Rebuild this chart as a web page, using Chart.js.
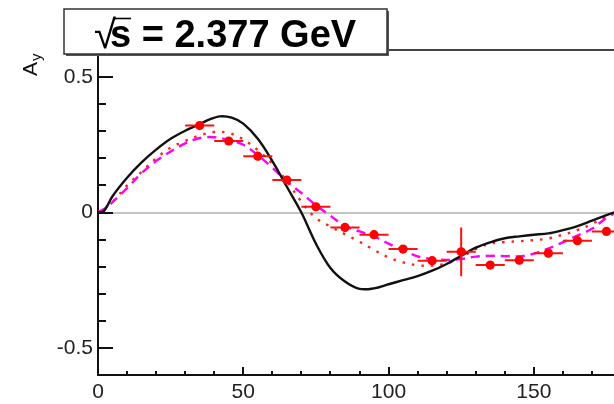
<!DOCTYPE html>
<html>
<head>
<meta charset="utf-8">
<script src="https://cdn.jsdelivr.net/npm/chart.js@4/dist/chart.umd.min.js"></script>
<style>
html,body{margin:0;padding:0;background:#fff;overflow:hidden;}
canvas{display:block;}
</style>
</head>
<body>
<canvas id="c" width="640" height="404"></canvas>
<script>
// ---- data ----
const titleText = "s = 2.377 GeV";
const yAxisLabel = "A";
const yAxisSub = "y";
const xTickValues = [0, 50, 100, 150];
const yTickValues = [-0.5, 0, 0.5];
const xMinorTicks = [10,20,30,40,50,60,70,80,90,100,110,120,130,140,150,160,170];
const yMinorTicks = [-0.5,-0.4,-0.3,-0.2,-0.1,0,0.1,0.2,0.3,0.4,0.5];

// measured points
const angles  = [35, 45, 55, 65, 75, 85, 95, 105, 115, 125, 135, 145, 155, 165, 175];
const ayValues = [0.321, 0.264, 0.208, 0.12, 0.021, -0.055, -0.082, -0.135, -0.178, -0.145, -0.194, -0.176, -0.15, -0.104, -0.07];
const ayErrors = [0.015, 0.015, 0.015, 0.015, 0.015, 0.015, 0.015, 0.015, 0.015, 0.09, 0.015, 0.015, 0.015, 0.015, 0.015];
const binHalfWidth = [5, 5, 5, 5, 5, 5, 5, 5, 5, 5, 5, 5, 5, 5, 5];

// black solid curve
const solidX = [0, 2, 5, 10, 15, 20, 25, 30, 35, 38, 42, 46, 50, 55, 60, 65, 70, 75, 80, 85, 90, 95, 100, 105, 110, 115, 120, 125, 130, 135, 140, 145, 150, 155, 160, 165, 170, 175, 180];
const solidY = [0, 0.005, 0.06, 0.128, 0.185, 0.232, 0.272, 0.302, 0.326, 0.342, 0.355, 0.35, 0.328, 0.272, 0.19, 0.095, 0.0, -0.115, -0.205, -0.255, -0.282, -0.28, -0.265, -0.25, -0.235, -0.215, -0.19, -0.16, -0.13, -0.11, -0.095, -0.088, -0.082, -0.077, -0.065, -0.05, -0.03, -0.01, 0.01];

// magenta dashed curve
const dashX = [0, 3.5, 10, 15, 20, 25, 30, 35, 40, 45, 50, 55, 60, 65, 70, 75, 80, 85, 90, 95, 100, 105, 110, 115, 120, 125, 130, 135, 140, 145, 150, 155, 160, 165, 170, 175, 180];
const dashY = [0, 0.024, 0.09, 0.145, 0.19, 0.225, 0.255, 0.275, 0.278, 0.268, 0.25, 0.212, 0.165, 0.115, 0.072, 0.027, -0.012, -0.05, -0.07, -0.088, -0.115, -0.14, -0.162, -0.172, -0.175, -0.172, -0.163, -0.16, -0.161, -0.162, -0.152, -0.133, -0.11, -0.085, -0.06, -0.02, 0.01];

// red dotted curve
const dotX = [0, 5, 10, 15, 20, 25, 30, 35, 40, 45, 50, 55, 60, 65, 70, 75, 80, 85, 90, 95, 100, 105, 110, 115, 120, 125, 130, 135, 140, 145, 150, 155, 160, 165, 170, 175, 180];
const dotY = [0, 0.04, 0.1, 0.15, 0.2, 0.24, 0.264, 0.285, 0.297, 0.294, 0.27, 0.23, 0.18, 0.115, 0.04, -0.02, -0.052, -0.08, -0.108, -0.138, -0.166, -0.184, -0.195, -0.196, -0.188, -0.165, -0.135, -0.115, -0.109, -0.106, -0.102, -0.096, -0.082, -0.065, -0.042, -0.015, 0.008];

const pts = (xs, ys) => xs.map((x, i) => ({x: x, y: ys[i]}));
const FONT = '"Liberation Sans", Arial, Helvetica, sans-serif';

const decor = {
  id: 'decor',
  beforeDatasetDraw(chart, args) {
    if (args.index !== 0) return;
    const {ctx, scales: {x, y}} = chart;
    ctx.save();
    ctx.strokeStyle = '#ff1010';
    ctx.lineWidth = 2;
    angles.forEach((a, i) => {
      const px = x.getPixelForValue(a);
      const py = y.getPixelForValue(ayValues[i]);
      ctx.beginPath();
      ctx.moveTo(x.getPixelForValue(a - binHalfWidth[i]), py);
      ctx.lineTo(x.getPixelForValue(a + binHalfWidth[i]), py);
      ctx.moveTo(px, y.getPixelForValue(ayValues[i] - ayErrors[i]));
      ctx.lineTo(px, y.getPixelForValue(ayValues[i] + ayErrors[i]));
      ctx.stroke();
    });
    ctx.restore();
  },
  afterDraw(chart) {
    const {ctx, chartArea: ca, scales: {x, y}} = chart;
    ctx.save();
    // inside ticks
    ctx.strokeStyle = '#111';
    ctx.lineWidth = 2;
    yMinorTicks.forEach(v => {
      const py = Math.round(y.getPixelForValue(v));
      const len = yTickValues.includes(v) ? 15 : 8;
      ctx.beginPath();
      ctx.moveTo(ca.left, py);
      ctx.lineTo(ca.left + len, py);
      ctx.stroke();
    });
    xMinorTicks.forEach(v => {
      const px = Math.round(x.getPixelForValue(v));
      const len = xTickValues.includes(v) ? 8 : 4;
      ctx.beginPath();
      ctx.moveTo(px, ca.bottom);
      ctx.lineTo(px, ca.bottom - len);
      ctx.stroke();
    });
    // top frame
    ctx.strokeStyle = '#444';
    ctx.lineWidth = 2;
    ctx.beginPath();
    ctx.moveTo(ca.left, ca.top);
    ctx.lineTo(ca.right, ca.top);
    ctx.stroke();

    // title box
    const bx = 64, by = 9, bw = 323, bh = 45;
    ctx.fillStyle = '#555';
    ctx.fillRect(bx + 2, by + 2, bw, bh);
    ctx.fillStyle = '#fff';
    ctx.fillRect(bx, by, bw, bh);
    ctx.strokeStyle = '#333';
    ctx.lineWidth = 1.5;
    ctx.strokeRect(bx, by, bw, bh);
    ctx.fillStyle = '#000';
    ctx.textBaseline = 'alphabetic';
    ctx.textAlign = 'left';
    ctx.font = '40px ' + FONT;
    ctx.fillText('\u221A', 94, 48);
    const rw = ctx.measureText('\u221A').width;
    ctx.strokeStyle = '#000';
    ctx.lineWidth = 1.6;
    ctx.beginPath();
    ctx.moveTo(94 + rw - 1, 18.5);
    ctx.lineTo(131, 18.5);
    ctx.stroke();
    ctx.font = 'bold 38px ' + FONT;
    ctx.fillText(titleText, 110, 47);
    // y axis label (rotated)
    ctx.translate(37, 76);
    ctx.rotate(-Math.PI / 2);
    ctx.fillStyle = '#111';
    ctx.font = '21px ' + FONT;
    ctx.fillText(yAxisLabel, 0, 0);
    const w = ctx.measureText(yAxisLabel).width;
    ctx.font = '15px ' + FONT;
    ctx.fillText(yAxisSub, w + 1, 4);
    ctx.restore();
  }
};

new Chart(document.getElementById('c'), {
  type: 'scatter',
  data: {
    datasets: [
      {
        label: 'data',
        data: pts(angles, ayValues),
        backgroundColor: '#ff0000',
        borderColor: '#ff0000',
        pointRadius: 4.6,
        pointBorderWidth: 0,
        showLine: false
      },
      {
        label: 'solid',
        data: pts(solidX, solidY),
        showLine: true,
        borderColor: '#111',
        borderWidth: 2.4,
        pointRadius: 0,
        tension: 0.35
      },
      {
        label: 'dashed',
        data: pts(dashX, dashY),
        showLine: true,
        borderColor: '#ff00ff',
        borderWidth: 2.4,
        borderDash: [9, 6],
        pointRadius: 0,
        tension: 0.35
      },
      {
        label: 'dotted',
        data: pts(dotX, dotY),
        showLine: true,
        borderColor: '#ff2020',
        borderWidth: 2.4,
        borderDash: [2.5, 7],
        pointRadius: 0,
        tension: 0.35
      }
    ]
  },
  options: {
    responsive: false,
    devicePixelRatio: 1,
    animation: false,
    layout: {padding: {top: 50, right: 19, left: 0, bottom: 0}},
    plugins: {legend: {display: false}, tooltip: {enabled: false}, title: {display: false}},
    scales: {
      x: {
        type: 'linear',
        min: 0, max: 180,
        afterFit(s) { s.height = 29; },
        afterBuildTicks(s) { s.ticks = xTickValues.map(v => ({value: v})); },
        grid: {display: false, drawTicks: false},
        border: {display: true, color: '#111', width: 2},
        ticks: {autoSkip: false, maxRotation: 0, padding: 5, color: '#222',
                font: {family: FONT, size: 21},
                callback: v => String(v)}
      },
      y: {
        type: 'linear',
        min: -0.6, max: 0.6,
        afterFit(s) { s.width = 98; },
        afterBuildTicks(s) { s.ticks = yTickValues.map(v => ({value: v})); },
        grid: {display: true, drawTicks: false, lineWidth: 2,
               color: c => (c.tick && c.tick.value === 0) ? '#c4c4c4' : 'rgba(0,0,0,0)'},
        border: {display: true, color: '#111', width: 2},
        ticks: {autoSkip: false, padding: 5, color: '#222',
                font: {family: FONT, size: 21},
                callback: v => String(v)}
      }
    }
  },
  plugins: [decor]
});
</script>
</body>
</html>
